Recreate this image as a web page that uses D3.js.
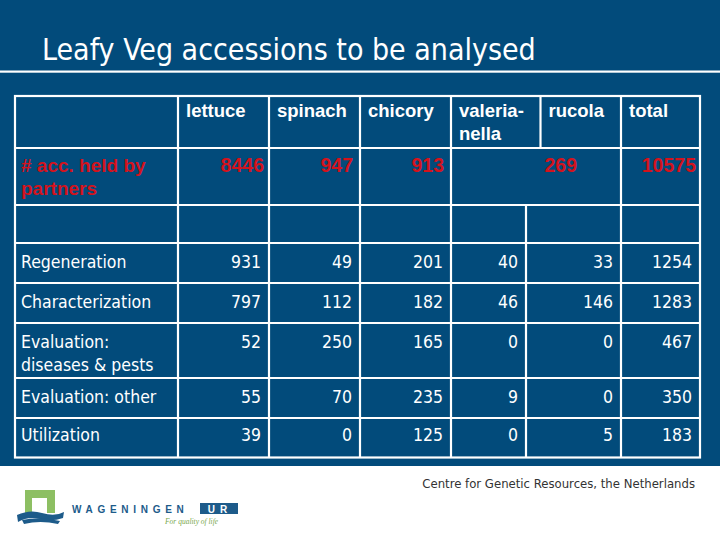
<!DOCTYPE html>
<html><head><meta charset="utf-8">
<script src="https://cdn.jsdelivr.net/npm/d3@7"></script>
<style>
html,body{margin:0;padding:0;background:#fff;}
svg{display:block;}
</style></head>
<body>
<script>
// ---- data ----
const title = "Leafy Veg accessions to be analysed";
const columns = ["lettuce", "spinach", "chicory", "valeria-\nnella", "rucola", "total"];
const heldLabel = "# acc. held by\npartners";
const heldValues = [8446, 947, 913, 269, 10575];          // valerianella+rucola merged (269)
const rowLabels = ["Regeneration", "Characterization", "Evaluation:\ndiseases & pests", "Evaluation: other", "Utilization"];
const lettuce      = [931, 797, 52, 55, 39];
const spinach      = [49, 112, 250, 70, 0];
const chicory      = [201, 182, 165, 235, 125];
const valerianella = [40, 46, 0, 9, 0];
const rucola       = [33, 146, 0, 0, 5];
const total        = [1254, 1283, 467, 350, 183];
const footer = "Centre for Genetic Resources, the Netherlands";

// ---- layout ----
const W = 720, H = 540;
const BLUE = "#024b7b", RED = "#d3131d";
const svg = d3.select("body").append("svg").attr("width", W).attr("height", H);
svg.append("rect").attr("width", W).attr("height", 466).attr("fill", BLUE);

svg.append("text").attr("x", 42).attr("y", 60).text(title)
  .attr("fill", "#fff").attr("font-family", "'DejaVu Sans Condensed','Liberation Sans Narrow',sans-serif")
  .attr("font-size", 30).attr("font-weight", 300);
svg.append("rect").attr("x", 0).attr("y", 70.5).attr("width", W).attr("height", 2.2).attr("fill", "#fff");

// column edges: header row, merged row, data rows
const colKeys = ["label", "lettuce", "spinach", "chicory", "valerianella", "rucola", "total"];
const xHead = d3.scaleOrdinal().domain(colKeys).range([15, 178, 269, 360, 451, 540.5, 621]);
const xData = d3.scaleOrdinal().domain(colKeys).range([15, 178, 269, 360, 451, 526, 621]);
const xRight = 700;
const rowKeys = ["head", "held", "blank", ...rowLabels];
const yTop = d3.scaleOrdinal().domain(rowKeys).range([96, 148, 205, 243, 283, 323, 378, 418]);
const yBottom = 457.5;

const g = svg.append("g");
const lineAttrs = s => s.attr("stroke", "#fff").attr("stroke-width", 2.2);

// outer border
lineAttrs(g.append("rect").attr("x", 15).attr("y", 96).attr("width", xRight - 15).attr("height", yBottom - 96).attr("fill", "none"));
// horizontal lines
rowKeys.slice(1).forEach(k => lineAttrs(g.append("line").attr("x1", 15).attr("x2", xRight).attr("y1", yTop(k)).attr("y2", yTop(k))));
// vertical lines
function vlines(scale, keys, y1, y2) {
  keys.forEach(k => lineAttrs(g.append("line").attr("x1", scale(k)).attr("x2", scale(k)).attr("y1", y1).attr("y2", y2)));
}
vlines(xHead, colKeys.slice(1), 96, 148);
vlines(xHead, ["lettuce", "spinach", "chicory", "valerianella", "total"], 148, 205);
vlines(xData, colKeys.slice(1), 205, yBottom);

// header text
const boldFont = "'Liberation Sans', Arial, sans-serif";
const lightFont = "'DejaVu Sans Condensed','Liberation Sans Narrow',sans-serif";
function multiline(sel, str, x, y, lh) {
  str.split("\n").forEach((t, i) => sel.append("tspan").attr("x", x).attr("y", y + i * lh).text(t));
}
columns.forEach((c, i) => {
  const t = g.append("text").attr("fill", "#fff").attr("font-family", boldFont).attr("font-weight", "bold").attr("font-size", 18.5);
  multiline(t, c, xHead(colKeys[i + 1]) + 8, 117, 23);
});

// held row (red)
{
  const t = g.append("text").attr("fill", RED).attr("font-family", boldFont).attr("font-weight", "bold").attr("font-size", 19);
  multiline(t, heldLabel, 21, 172, 23);
  const heldRight = [xHead("spinach") - 5, xHead("chicory") - 7, xHead("valerianella") - 7, 577, xRight - 4];
  g.selectAll(".held").data(heldValues).join("text")
    .attr("x", (d, i) => heldRight[i]).attr("y", 172).attr("text-anchor", "end")
    .attr("fill", RED).attr("font-family", boldFont).attr("font-weight", "bold").attr("font-size", 19.5)
    .text(d => d);
}

// data rows
const series = [lettuce, spinach, chicory, valerianella, rucola, total];
const rightEdge = k => { const i = colKeys.indexOf(k); return i < colKeys.length - 1 ? xData(colKeys[i + 1]) : xRight; };
const rowsG = g.selectAll(".row").data(rowLabels).join("g");
rowsG.each(function (lab, r) {
  const rg = d3.select(this);
  const y = yTop(lab) + (r === rowLabels.length - 1 ? 22.5 : 24.5);
  const t = rg.append("text").attr("fill", "#fff").attr("font-family", lightFont).attr("font-size", 17.5);
  multiline(t, lab, 21, y, 23.5);
  rg.selectAll(".v").data(series.map(s => s[r])).join("text")
    .attr("x", (d, i) => rightEdge(colKeys[i + 1]) - 8)
    .attr("y", y).attr("text-anchor", "end")
    .attr("fill", "#fff").attr("font-family", lightFont).attr("font-size", 17.5)
    .text(d => d);
});

// footer
svg.append("text").attr("x", 695).attr("y", 488).attr("text-anchor", "end")
  .attr("fill", "#333").attr("font-family", lightFont).attr("font-size", 13).text(footer);

// logo
const logo = svg.append("g");
logo.append("rect").attr("x", 25).attr("y", 490).attr("width", 30).attr("height", 23).attr("fill", "#8dbf63");
logo.append("rect").attr("x", 32).attr("y", 498).attr("width", 15).attr("height", 16).attr("fill", "#fff");
logo.append("path").attr("d", "M17,515 Q30,509 42,513 Q55,517 64,512 L63,518 Q52,522 40,519 Q28,516 18,522 Z").attr("fill", "#1d5b8a");
logo.append("path").attr("d", "M22,520 Q40,516 60,521 L58,524 Q40,520 24,524 Z").attr("fill", "#1d5b8a");
logo.append("text").attr("x", 72).attr("y", 512.5).attr("fill", "#1d5b8a")
  .attr("font-family", boldFont).attr("font-weight", "bold").attr("font-size", 10).attr("letter-spacing", 4.7).text("WAGENINGEN");
logo.append("rect").attr("x", 200).attr("y", 503).attr("width", 38).attr("height", 11).attr("fill", "#1d5b8a");
logo.append("text").attr("x", 220).attr("y", 512.5).attr("text-anchor", "middle").attr("fill", "#fff")
  .attr("font-family", boldFont).attr("font-weight", "bold").attr("font-size", 10).attr("letter-spacing", 5).text("UR");
logo.append("text").attr("x", 165).attr("y", 524).attr("fill", "#7aa84e")
  .attr("font-family", "serif").attr("font-style", "italic").attr("font-size", 7.5).text("For quality of life");
</script>
</body></html>
